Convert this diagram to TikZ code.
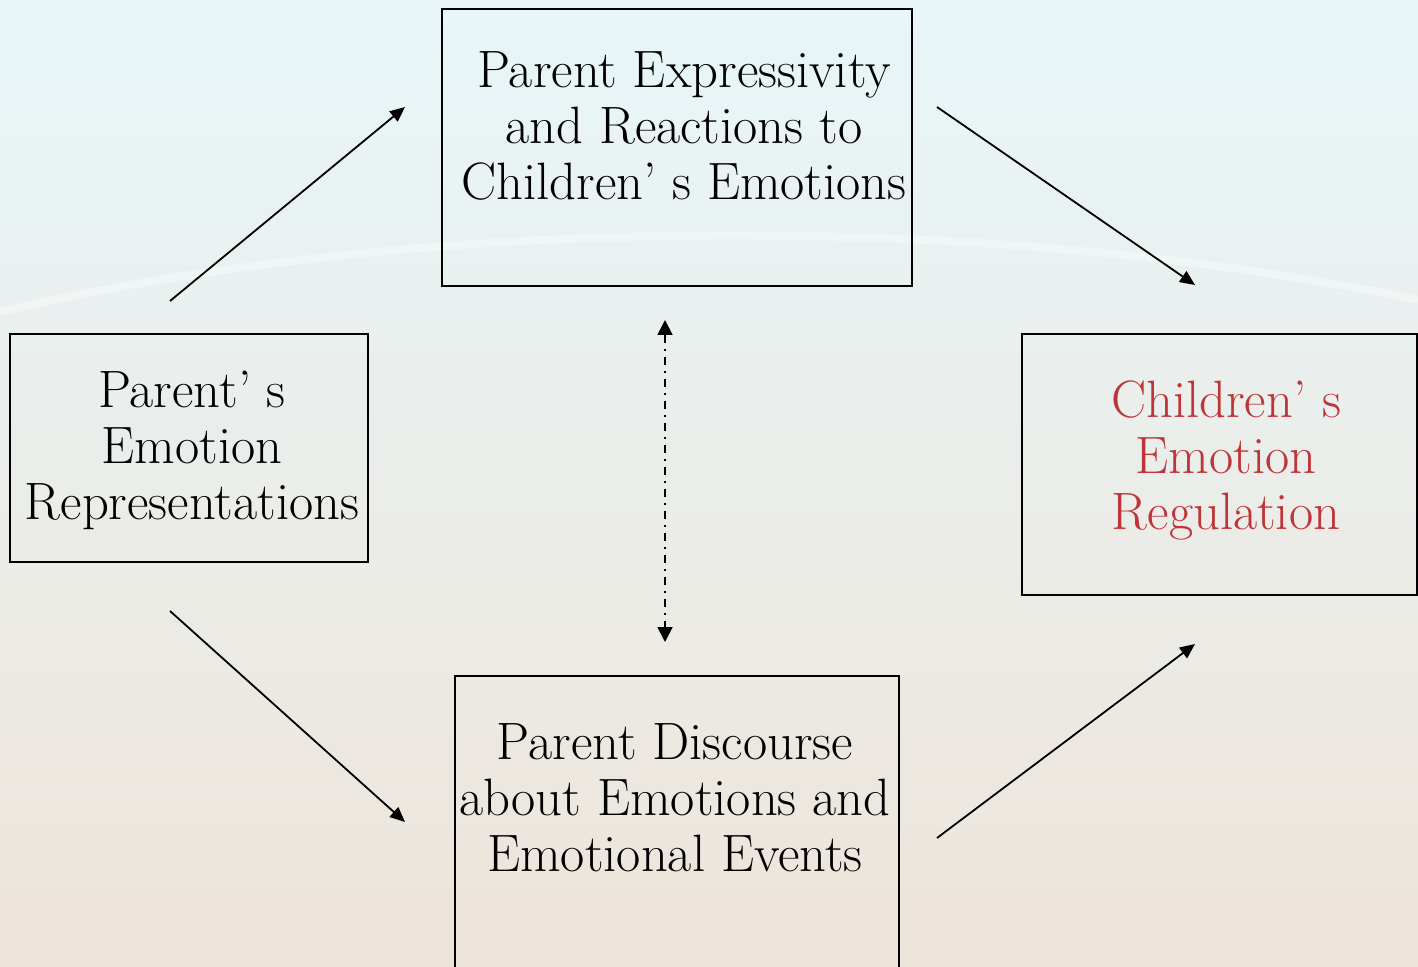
\documentclass[tikz,border=0pt]{standalone}
\usetikzlibrary{arrows.meta,positioning,calc}
\definecolor{skytop}{RGB}{232,246,249}
\definecolor{mistmid}{RGB}{245,247,243}
\definecolor{sandlow}{RGB}{237,228,218}
\definecolor{regred}{RGB}{190,52,56}

\begin{document}
\begin{tikzpicture}[x=0.5pt,y=-0.5pt,
    box/.style={draw=black, line width=1pt, inner sep=0pt, outer sep=0pt},
    lbl/.style={align=center, inner sep=0pt, font=\fontsize{26.3}{28}\selectfont},
    flow/.style={line width=0.9pt, -{Triangle[length=7.5pt,width=6.5pt]}},
    link/.style={line width=0.9pt, dash pattern=on 4pt off 3pt on 1pt off 3pt,
      {Triangle[length=7.5pt,width=7.5pt]}-{Triangle[length=7.5pt,width=7.5pt]}}]
  \clip (0,0) rectangle (1418,967);
  % Background
  \shade[top color=skytop, middle color=mistmid, bottom color=sandlow] (0,0) rectangle (1418,967);
  \draw[white, opacity=.35, line width=4pt] (0,312) .. controls (420,212) and (1000,212) .. (1418,300);

  % Boxes
  \node[box, minimum width=235pt, minimum height=138.5pt] (expr) at (677,147.5) {};
  \node[box, minimum width=179pt, minimum height=114pt] (rep) at (189,448) {};
  \node[box, minimum width=197.5pt, minimum height=130.5pt] (reg) at (1219.5,464.5) {};
  \node[box, minimum width=222pt, minimum height=157pt] (disc) at (677,833) {};

  % Labels
  \node[lbl] (exprtxt) at (684,126) {Parent Expressivity\\and Reactions to\\Children’ s Emotions};
  \node[lbl] (reptxt) at (192,450) {Parent’ s\\Emotion\\Representations};
  \node[lbl, text=regred] (regtxt) at (1226,460) {Children’ s\\Emotion\\Regulation};
  \node[lbl] (disctxt) at (675,798) {Parent Discourse\\about Emotions and\\Emotional Events};

  % Edges
  \coordinate (rep-up) at (170,301);
  \coordinate (expr-in) at (405,107);
  \coordinate (expr-out) at (937,107);
  \coordinate (reg-top) at (1195,285);
  \coordinate (rep-down) at (170,611);
  \coordinate (disc-in) at (405,822);
  \coordinate (disc-out) at (937,838);
  \coordinate (reg-bot) at (1195,644);
  \coordinate (expr-below) at (665,320);
  \coordinate (disc-above) at (665,642);
  \draw[flow] (rep-up) -- (expr-in);
  \draw[flow] (expr-out) -- (reg-top);
  \draw[flow] (rep-down) -- (disc-in);
  \draw[flow] (disc-out) -- (reg-bot);
  \draw[link] (expr-below) -- (disc-above);
\end{tikzpicture}
\end{document}
